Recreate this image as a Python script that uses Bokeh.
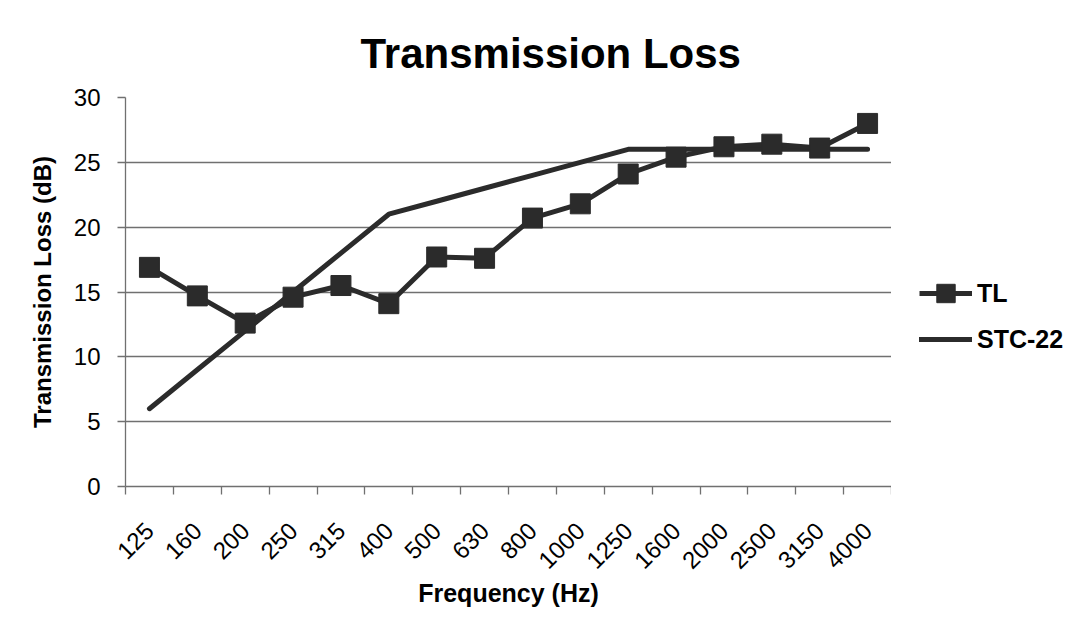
import math
from bokeh.plotting import figure
from bokeh.layouts import row
from bokeh.models import (Range1d, FactorRange, LinearAxis, CategoricalAxis, FixedTicker,
                          Legend, LegendItem)
from bokeh.embed import file_html
from bokeh.resources import INLINE

# ---- data ----
freqs = ["125", "160", "200", "250", "315", "400", "500", "630", "800",
         "1000", "1250", "1600", "2000", "2500", "3150", "4000"]
tl = [16.9, 14.7, 12.6, 14.6, 15.5, 14.1, 17.7, 17.6, 20.7,
      21.8, 24.1, 25.4, 26.2, 26.4, 26.1, 28.0]
stc22 = [6, 9, 12, 15, 18, 21, 22, 23, 24, 25, 26, 26, 26, 26, 26, 26]
y_ticks = [0, 5, 10, 15, 20, 25, 30]

FONT = "Liberation Sans"
AXIS_GREY = "#707070"
LINE_COL = "#2b2b2b"
H = 620

p = figure(width=891, height=H,
           x_range=FactorRange(*freqs), y_range=Range1d(0, 30),
           x_axis_location=None, y_axis_location="left",
           output_backend="svg", toolbar_location=None,
           min_border_left=125, min_border_top=97,
           min_border_bottom=134, min_border_right=0)

p.outline_line_color = None
p.background_fill_color = "white"
p.border_fill_color = "white"

# title
p.title.text = "Transmission Loss"
p.title.text_font = FONT
p.title.text_font_style = "bold"
p.title.text_font_size = "42px"
p.title.text_color = "#000000"
p.title.align = "left"
p.title.offset = 235
p.title.standoff = 42

# y axis
ya = p.yaxis[0]
ya.ticker = FixedTicker(ticks=y_ticks)
ya.major_label_text_font = FONT
ya.major_label_text_font_size = "24px"
ya.major_label_text_color = "#000000"
ya.major_label_standoff = 17
ya.major_tick_out = 8
ya.major_tick_in = 0
ya.minor_tick_out = 0
ya.minor_tick_in = 0
ya.axis_line_color = AXIS_GREY
ya.axis_line_width = 1.3
ya.major_tick_line_color = AXIS_GREY
ya.major_tick_line_width = 1.3
ya.axis_label = "Transmission Loss (dB)"
ya.axis_label_text_font = FONT
ya.axis_label_text_font_style = "bold"
ya.axis_label_text_font_size = "24px"
ya.axis_label_text_color = "#000000"
ya.axis_label_standoff = 15

p.ygrid.ticker = FixedTicker(ticks=y_ticks)
p.ygrid.grid_line_color = AXIS_GREY
p.ygrid.grid_line_width = 1.3
p.xgrid.visible = False

# x axis: tick marks at category edges (synthetic coordinates 0..N), labels hidden
tick_axis = LinearAxis(ticker=FixedTicker(ticks=list(range(len(freqs) + 1))),
                       major_label_text_font_size="4px", major_label_text_color=None,
                       major_label_standoff=0,
                       major_tick_out=8, major_tick_in=0,
                       minor_tick_out=0, minor_tick_in=0,
                       axis_line_color=AXIS_GREY, axis_line_width=1.3,
                       major_tick_line_color=AXIS_GREY, major_tick_line_width=1.3)
p.add_layout(tick_axis, "below")

cat_axis = CategoricalAxis(axis_line_color=None, major_tick_line_color=None,
                           major_tick_out=0, major_tick_in=0,
                           major_label_orientation=math.pi / 4,
                           major_label_text_font=FONT,
                           major_label_text_font_size="24px",
                           major_label_text_color="#000000",
                           major_label_standoff=32,
                           axis_label="Frequency (Hz)",
                           axis_label_text_font=FONT,
                           axis_label_text_font_style="bold",
                           axis_label_text_font_size="25px",
                           axis_label_text_color="#000000",
                           axis_label_standoff=0)
p.add_layout(cat_axis, "below")

# data
stc_line = p.line(freqs, stc22, line_color=LINE_COL, line_width=5, line_cap="round", line_join="round")
tl_line = p.line(freqs, tl, line_color=LINE_COL, line_width=5, line_join="round")
tl_pts = p.scatter(freqs, tl, marker="square", size=20, fill_color=LINE_COL, line_color=LINE_COL)

# legend panel (separate figure so the legend sits outside the plot area);
# its renderers carry the same series but its y-range keeps them out of view
lg = figure(width=1086 - 891, height=H, title=None,
            x_range=FactorRange(*freqs), y_range=Range1d(-2, -1),
            x_axis_location=None, y_axis_location=None,
            output_backend="svg", toolbar_location=None, min_border=0)
lg.outline_line_color = None
lg.grid.visible = False
lg_tl_line = lg.line(freqs, tl, line_color=LINE_COL, line_width=5)
lg_tl_pts = lg.scatter(freqs, tl, marker="square", size=20, fill_color=LINE_COL, line_color=LINE_COL)
lg_stc_line = lg.line(freqs, stc22, line_color=LINE_COL, line_width=5, line_cap="round")

legend = Legend(items=[LegendItem(label="TL", renderers=[lg_tl_line, lg_tl_pts]),
                       LegendItem(label="STC-22", renderers=[lg_stc_line])],
                location=(28, 124), orientation="vertical",
                glyph_width=53, glyph_height=46, label_height=46,
                spacing=0, padding=0, margin=0, label_standoff=5,
                label_text_font=FONT, label_text_font_style="bold",
                label_text_font_size="25px", label_text_color="#000000",
                border_line_color=None, background_fill_alpha=0)
lg.add_layout(legend, "center")

layout = row(p, lg, spacing=0)
open("out.html", "w").write(file_html(layout, INLINE))
